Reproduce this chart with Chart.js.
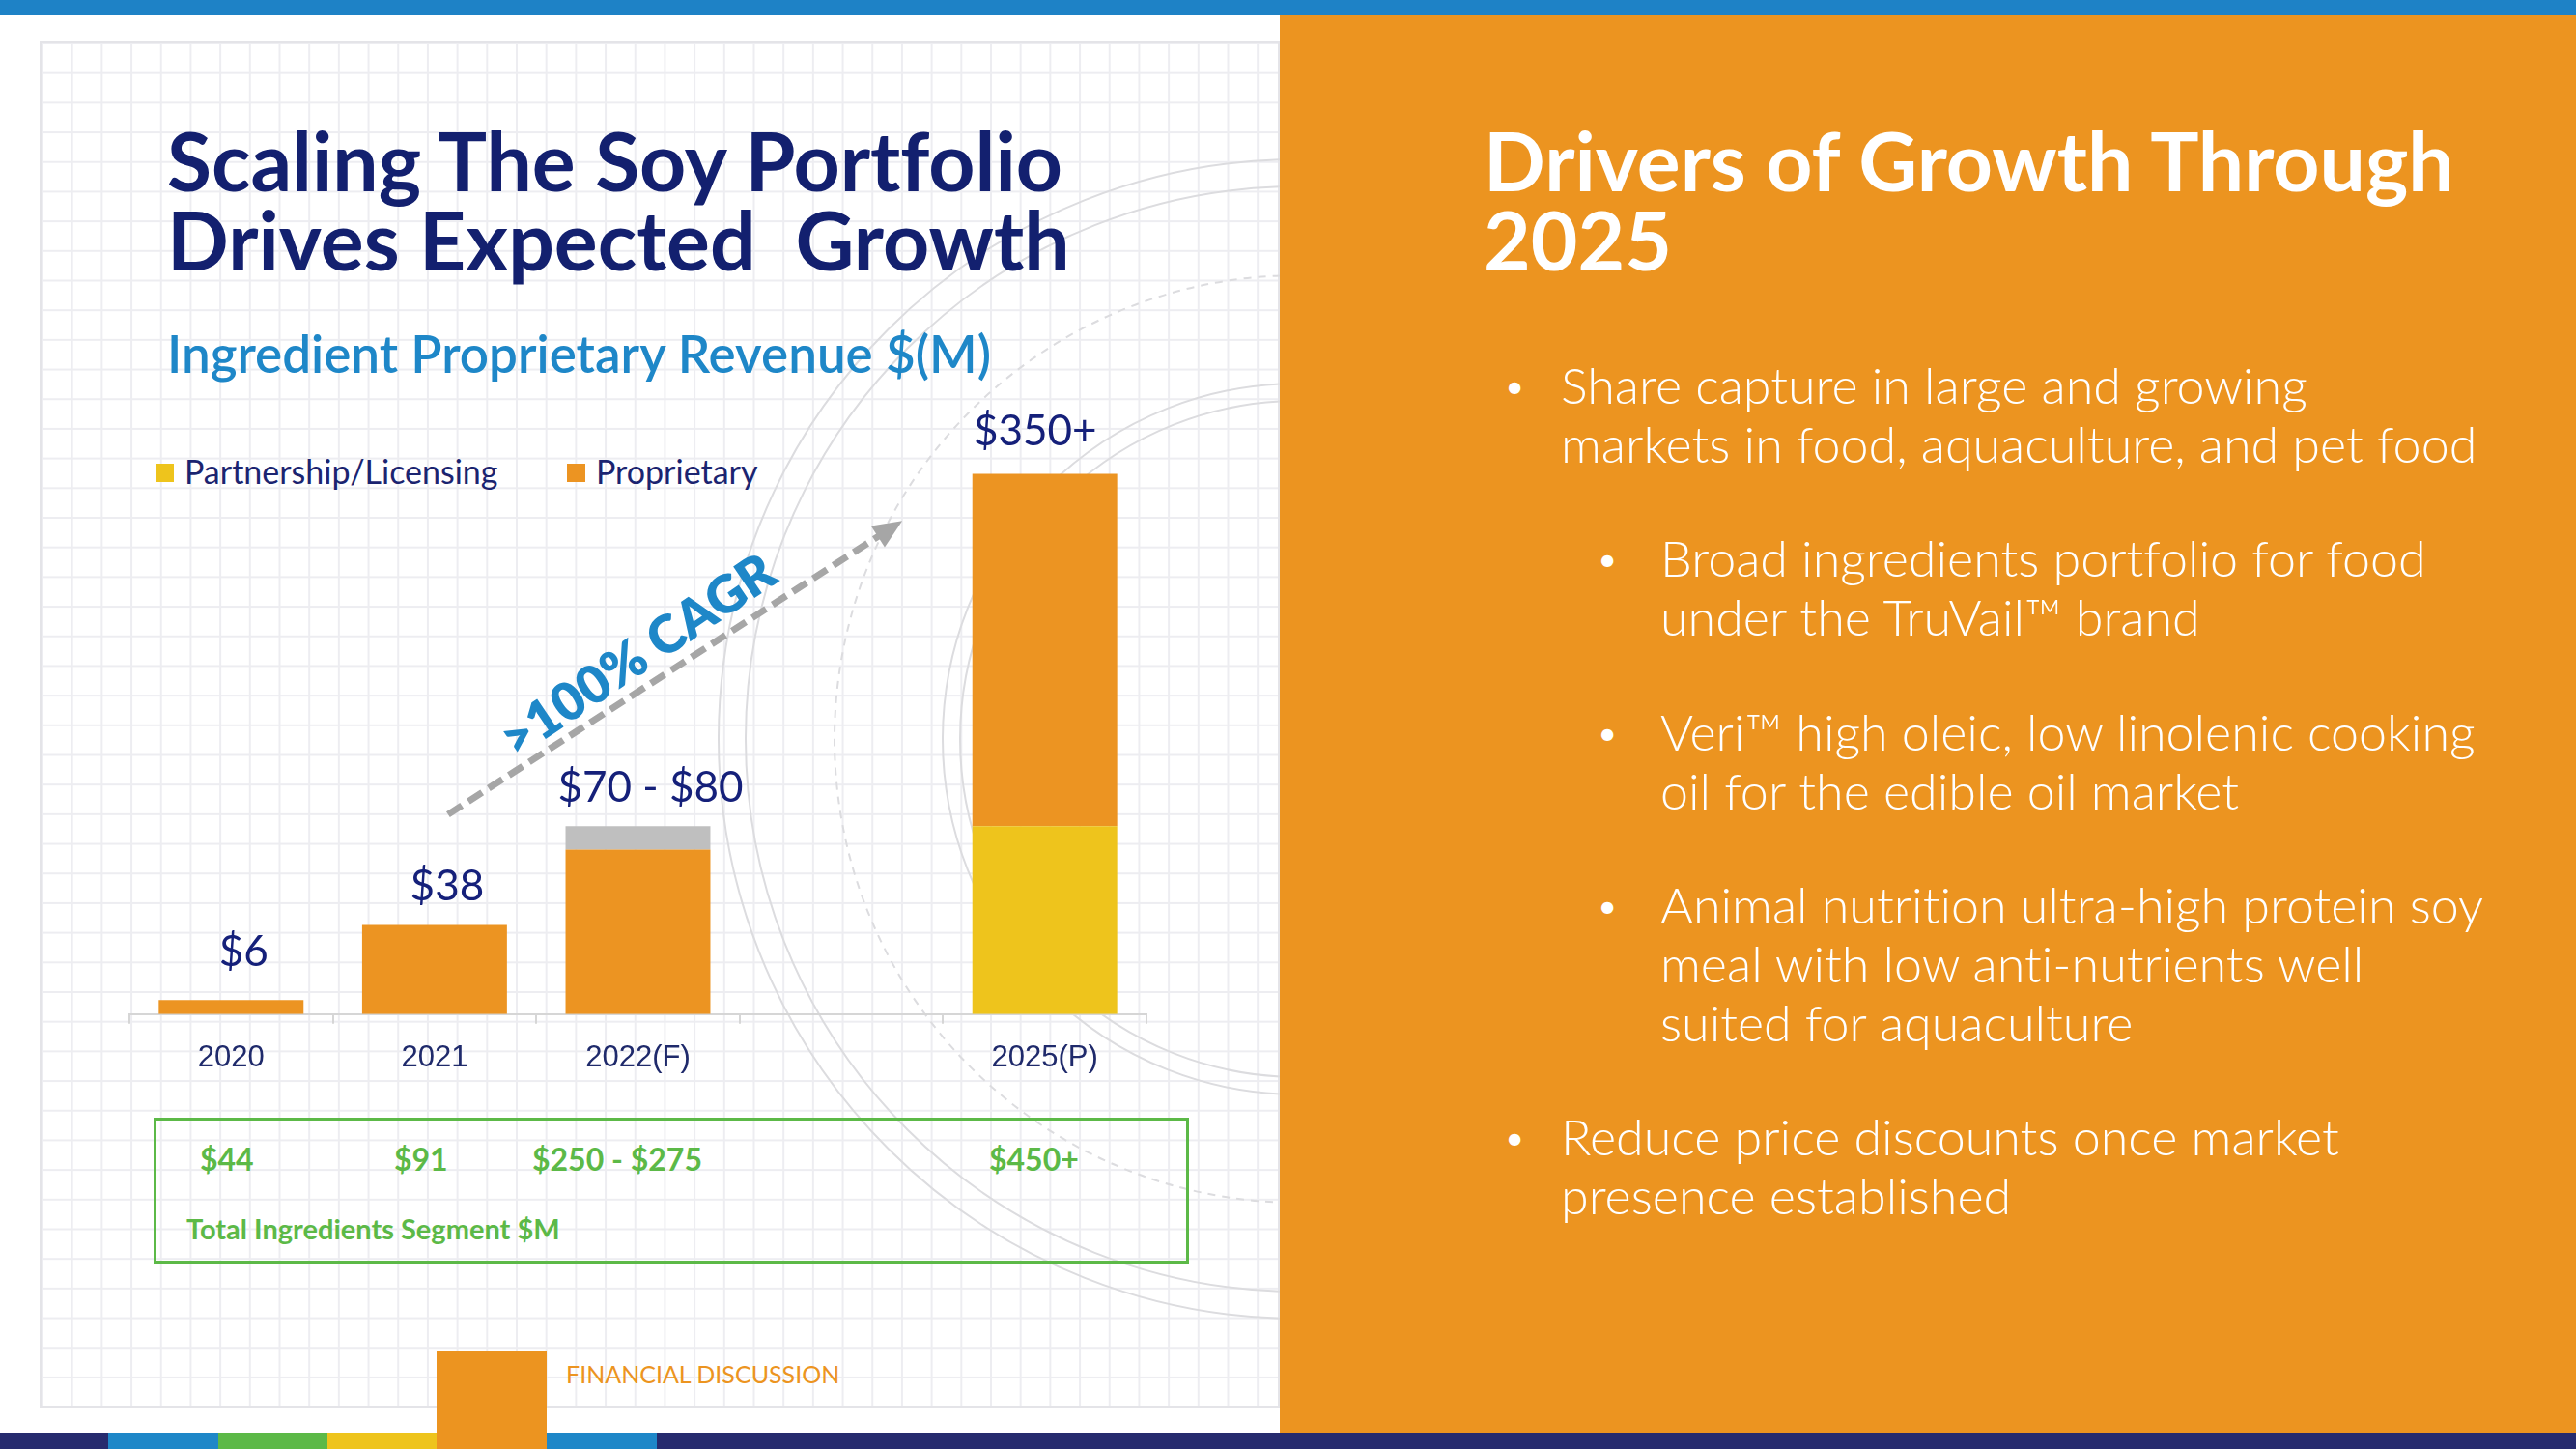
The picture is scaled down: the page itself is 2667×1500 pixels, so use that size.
<!DOCTYPE html>
<html>
<head>
<meta charset="utf-8">
<script src="https://cdn.jsdelivr.net/npm/chart.js@4.4.1/dist/chart.umd.min.js"></script>
<style>
html, body { margin: 0; padding: 0; }
body { width: 2667px; height: 1500px; position: relative; overflow: hidden; background: #fff; font-family: 'Lato', sans-serif; font-variant-ligatures: none; }
.abs { position: absolute; white-space: nowrap; }
#grid {
  left: 41px; top: 42px; width: 1284px; height: 1416px; box-sizing: border-box;
  border: 2px solid #e4e4e8; background-color: #fff;
  background-image: linear-gradient(to right, #ededf1 2px, transparent 2px),
                    linear-gradient(to bottom, #ededf1 2px, transparent 2px);
  background-size: 30.7px 30.7px;
}
.title { font-weight: 700; font-size: 84px; line-height: 82px; }
.bul { font-weight: 300; font-size: 42px; line-height: 61px; color: #fff; }
.txt { font-weight: 300; font-size: 52px; line-height: 61px; color: #fff; }
.leg { font-size: 34px; line-height: 36px; color: #1b2470; }
.sw { width: 19px; height: 19px; }
.seg { font-weight: 700; font-size: 32px; line-height: 40px; color: #5cb947; }
</style>
</head>
<body>
<div class="abs" id="grid"></div>
<svg class="abs" style="left:0;top:0" width="1325" height="1500">
  <defs><clipPath id="clp"><rect x="43" y="44" width="1282" height="1412"/></clipPath></defs>
  <g clip-path="url(#clp)" fill="none" stroke="#dcdcdf" stroke-width="2">
    <circle cx="1344" cy="765" r="350"/>
    <circle cx="1344" cy="765" r="368"/>
    <circle cx="1344" cy="765" r="480" stroke-dasharray="8 7"/>
    <circle cx="1344" cy="765" r="572"/>
    <circle cx="1344" cy="765" r="600"/>
  </g>
</svg>

<div class="abs" style="left:0;top:0;width:2667px;height:16px;background:#1e82c6"></div>
<div class="abs" style="left:1325px;top:16px;width:1342px;height:1467px;background:#ec9420"></div>

<div class="abs title" style="left:173px;top:125px;color:#13206f">Scaling The Soy Portfolio<br>Drives Expected&nbsp; Growth</div>
<div class="abs" style="left:173px;top:338px;font-weight:600;font-size:53px;line-height:56px;color:#1e87c8">Ingredient Proprietary Revenue $(M)</div>

<div class="abs sw" style="left:161px;top:480px;background:#eec41c"></div>
<div class="abs leg" id="leg1" style="left:191px;top:470px"></div>
<div class="abs sw" style="left:587px;top:480px;background:#ec9422"></div>
<div class="abs leg" id="leg2" style="left:617px;top:470px"></div>

<canvas id="chart" class="abs" style="left:100px;top:362px" width="1130" height="778"></canvas>

<div class="abs" style="left:159px;top:1157px;width:1072px;height:151px;box-sizing:border-box;border:3px solid #5cb947"></div>
<div id="segs"></div>
<div class="abs" style="left:193px;top:1256px;font-weight:700;font-size:29px;line-height:32px;color:#5cb947">Total Ingredients Segment $M</div>

<div class="abs" style="left:0;top:1483px;width:2667px;height:17px;background:#262b6e"></div>
<div class="abs" style="left:112px;top:1483px;width:114px;height:17px;background:#1e87c8"></div>
<div class="abs" style="left:226px;top:1483px;width:113px;height:17px;background:#5cb947"></div>
<div class="abs" style="left:339px;top:1483px;width:113px;height:17px;background:#eec41c"></div>
<div class="abs" style="left:566px;top:1483px;width:114px;height:17px;background:#1e87c8"></div>
<div class="abs" style="left:452px;top:1399px;width:114px;height:101px;background:#ec9420"></div>
<div class="abs" style="left:586px;top:1407px;font-size:25px;line-height:30px;color:#ec9420">FINANCIAL DISCUSSION</div>

<div class="abs title" style="left:1536px;top:125px;color:#fff">Drivers of Growth Through<br>2025</div>

<div class="abs bul" style="left:1556px;top:368px">•</div>
<div class="abs txt" style="left:1616px;top:368px">Share capture in large and growing<br>markets in food, aquaculture, and pet food</div>
<div class="abs bul" style="left:1652px;top:547px">•</div>
<div class="abs txt" style="left:1719px;top:547px">Broad ingredients portfolio for food<br>under the TruVail™ brand</div>
<div class="abs bul" style="left:1652px;top:727px">•</div>
<div class="abs txt" style="left:1719px;top:727px">Veri™ high oleic, low linolenic cooking<br>oil for the edible oil market</div>
<div class="abs bul" style="left:1652px;top:906px">•</div>
<div class="abs txt" style="left:1719px;top:906px">Animal nutrition ultra-high protein soy<br>meal with low anti-nutrients well<br>suited for aquaculture</div>
<div class="abs bul" style="left:1556px;top:1146px">•</div>
<div class="abs txt" style="left:1616px;top:1146px">Reduce price discounts once market<br>presence established</div>

<script>
// bar heights as drawn on the slide ($M, 2025 is drawn compressed)
const categories = ['2020', '2021', '2022(F)', '', '2025(P)'];
const partnership = [0, 0, 0, null, 80];
const proprietary = [6, 38, 70, null, 150];
const forecastRange = [0, 0, 10, null, 0];
const barLabels = ['$6', '$38', '$70 - $80', '', '$350+'];
const segmentTotals = ['$44', '$91', '$250 - $275', '', '$450+'];
const seriesNames = ['Partnership/Licensing', 'Proprietary'];

document.getElementById('leg1').textContent = seriesNames[0];
document.getElementById('leg2').textContent = seriesNames[1];

const segX = [207, 408, 551, 0, 1024];
const segBox = document.getElementById('segs');
segmentTotals.forEach((t, i) => {
    if (!t) return;
    const d = document.createElement('div');
    d.className = 'abs seg';
    d.style.left = segX[i] + 'px';
    d.style.top = '1180px';
    d.textContent = t;
    segBox.appendChild(d);
});

Chart.defaults.font.family = 'Lato';

const annotate = {
    id: 'annotate',
    afterDatasetsDraw(chart) {
        const { ctx, scales: { x, y } } = chart;
        const labelDx = [13, 13, 13, 0, -10];
        const labelGap = [35, 25, 25, 0, 30];

        ctx.save();
        ctx.font = '44px Lato';
        ctx.fillStyle = '#15207a';
        ctx.textAlign = 'center';
        ctx.textBaseline = 'alphabetic';
        categories.forEach((c, i) => {
            if (!barLabels[i]) return;
            const total = (partnership[i] || 0) + (proprietary[i] || 0) + (forecastRange[i] || 0);
            ctx.fillText(barLabels[i], x.getPixelForValue(i) + labelDx[i], y.getPixelForValue(total) - labelGap[i]);
        });

        // dashed growth arrow
        const x0 = x.getPixelForValue(1) + 14, y0 = y.getPixelForValue(85);
        const x1 = x.getPixelForValue(3) + 63, y1 = y.getPixelForValue(210);
        const a = Math.atan2(y1 - y0, x1 - x0);
        const head = 30;
        ctx.strokeStyle = '#a6a6a6';
        ctx.fillStyle = '#a6a6a6';
        ctx.lineWidth = 7;
        ctx.setLineDash([17, 8]);
        ctx.beginPath();
        ctx.moveTo(x0, y0);
        ctx.lineTo(x1 - (head - 4) * Math.cos(a), y1 - (head - 4) * Math.sin(a));
        ctx.stroke();
        ctx.setLineDash([]);
        ctx.beginPath();
        ctx.moveTo(x1, y1);
        ctx.lineTo(x1 - head * Math.cos(a) + 13 * Math.sin(a), y1 - head * Math.sin(a) - 13 * Math.cos(a));
        ctx.lineTo(x1 - head * Math.cos(a) - 13 * Math.sin(a), y1 - head * Math.sin(a) + 13 * Math.cos(a));
        ctx.closePath();
        ctx.fill();

        ctx.translate((x0 + x1) / 2 - 38, (y0 + y1) / 2 - 12);
        ctx.rotate(-34 * Math.PI / 180);
        ctx.font = '800 54px Lato';
        ctx.fillStyle = '#1e87c8';
        ctx.textAlign = 'center';
        ctx.textBaseline = 'middle';
        ctx.fillText('>100% CAGR', 0, 0);
        ctx.restore();
    }
};

new Chart(document.getElementById('chart'), {
    type: 'bar',
    data: {
        labels: categories,
        datasets: [
            { label: seriesNames[0], data: partnership, backgroundColor: '#eec41c' },
            { label: seriesNames[1], data: proprietary, backgroundColor: '#ec9422' },
            { label: 'Range', data: forecastRange, backgroundColor: '#bfbfbf' },
        ],
    },
    options: {
        responsive: false,
        animation: false,
        layout: { padding: { left: 34, right: 43, top: 80, bottom: 9 } },
        datasets: { bar: { barPercentage: 0.712, categoryPercentage: 1 } },
        scales: {
            x: {
                stacked: true,
                grid: { display: true, drawOnChartArea: false, drawTicks: true, tickLength: 10, color: '#d6d6d6', lineWidth: 2, offset: true },
                border: { display: true, color: '#d6d6d6', width: 2 },
                ticks: { color: '#1f2a6b', font: { family: 'Liberation Sans', size: 31 }, padding: 17 },
            },
            y: { stacked: true, display: false, min: 0, max: 250 },
        },
        plugins: { legend: { display: false }, tooltip: { enabled: false } },
    },
    plugins: [annotate],
});
</script>
</body>
</html>
